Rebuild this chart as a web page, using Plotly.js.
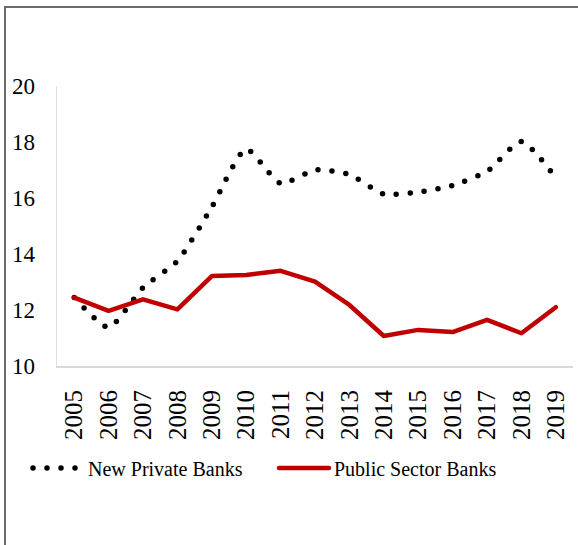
<!DOCTYPE html>
<html>
<head>
<meta charset="utf-8">
<script src="https://cdn.plot.ly/plotly-3.0.1.min.js"></script>
<style>
  html, body { margin: 0; padding: 0; background: #fff; }
  #wrap { position: relative; width: 578px; height: 545px; overflow: hidden; }
  #chart { position: absolute; left: 0; top: 0; width: 578px; height: 545px; }
  #frame { position: absolute; left: 4px; top: 6px; width: 580px; height: 545px;
           border-left: 2px solid #6b6b6b; border-top: 2px solid #6b6b6b; pointer-events: none; }
  path.js-line { stroke-linecap: round; stroke-linejoin: round; }
</style>
</head>
<body>
<div id="wrap">
  <div id="chart"></div>
  <div id="frame"></div>
</div>
<script>
const years = ['2005','2006','2007','2008','2009','2010','2011','2012','2013','2014','2015','2016','2017','2018','2019'];
const newPrivateBanks = [12.45, 11.38, 12.8, 13.75, 15.68, 17.75, 16.52, 17.0, 16.84, 16.14, 16.21, 16.45, 16.95, 18.02, 16.72];
const publicSectorBanks = [12.44, 11.97, 12.38, 12.02, 13.21, 13.25, 13.40, 13.01, 12.18, 11.07, 11.29, 11.21, 11.65, 11.17, 12.10];
const yTicks = [10, 12, 14, 16, 18, 20];

const font = 'Liberation Serif, Times New Roman, serif';

const traces = [
  {
    x: years, y: newPrivateBanks, type: 'scatter', mode: 'lines',
    name: 'New Private Banks', legend: 'legend',
    line: { color: '#000000', width: 5.5, dash: '0px,14px', shape: 'spline', smoothing: 0.6 }
  },
  {
    x: years, y: publicSectorBanks, type: 'scatter', mode: 'lines',
    name: 'Public Sector Banks', legend: 'legend2',
    line: { color: '#c00000', width: 4.5 }
  }
];

const legendBase = {
  orientation: 'h', xanchor: 'left', y: -0.364, yanchor: 'middle',
  font: { family: font, size: 20, color: '#000000' },
  itemwidth: 50, bgcolor: 'rgba(0,0,0,0)'
};

const layout = {
  width: 578, height: 545,
  margin: { l: 57, r: 5, t: 86, b: 179 },
  paper_bgcolor: '#ffffff', plot_bgcolor: '#ffffff',
  font: { family: font, color: '#000000', size: 20 },
  showlegend: true,
  legend: Object.assign({}, legendBase, { x: -0.0562 }),
  legend2: Object.assign({}, legendBase, { x: 0.4205 }),
  xaxis: {
    type: 'category', range: [-0.5, 14.5],
    showline: true, linecolor: '#d9d9d9', linewidth: 2,
    showgrid: false, zeroline: false, ticks: '',
    tickangle: -90, tickfont: { family: font, size: 25, color: '#000000' },
    ticklabelstandoff: 12
  },
  yaxis: {
    range: [10, 20], tickvals: yTicks, ticktext: yTicks.map(String),
    showline: true, linecolor: '#e6e2d4', linewidth: 1.5,
    showgrid: false, zeroline: false, ticks: '',
    tickfont: { family: font, size: 23, color: '#000000' },
    ticklabelstandoff: 16
  }
};

Plotly.newPlot('chart', traces, layout, { displayModeBar: false, staticPlot: true });
</script>
</body>
</html>
